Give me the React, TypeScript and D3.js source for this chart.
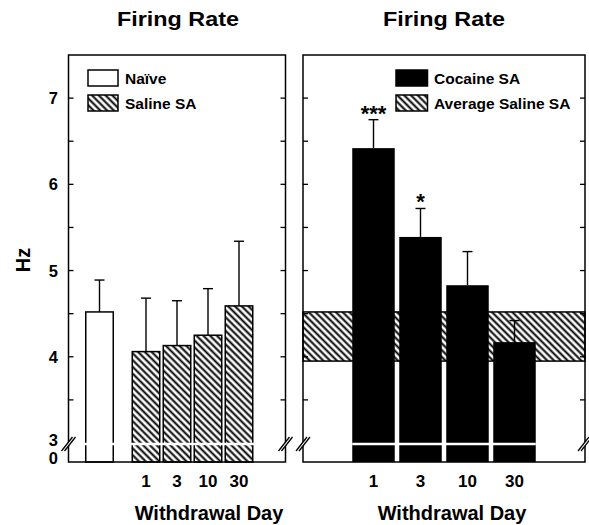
import React from 'react'
import * as d3 from 'd3'

const salineDays = ['1', '3', '10', '30']
const salineMean = [4.06, 4.13, 4.25, 4.59]
const salineErr = [0.62, 0.52, 0.54, 0.75]
const naiveMean = [4.52]
const naiveErr = [0.37]
const cocaineDays = ['1', '3', '10', '30']
const cocaineMean = [6.42, 5.39, 4.83, 4.17]
const cocaineErr = [0.33, 0.33, 0.39, 0.25]
const cocaineStars = ['***', '*', '', '']
const salineBand = [3.95, 4.52]
const yMajor = [4, 5, 6, 7]
const yMinor = [3.5, 4.5, 5.5, 6.5]

const FONT = '"Liberation Sans", Arial, Helvetica, sans-serif'
const top = 55
const bottom = 462
const breakY = 444

// y scale covers the visible 3..7.5 range, 0 sits below the axis break
const y = d3.scaleLinear().domain([3, 7.5]).range([443, top])

// slot positions (bar index) for each panel
const xL = d3.scaleLinear().domain([-2.5, 4.5]).range([68.5, 285.5])
const xR = d3.scaleLinear().domain([-1.5, 4.5]).range([303, 585])
const wL = 27.5
const wR = 42.5

const BreakMark = ({ x }: { x: number }) => (
  <g stroke="#000" strokeWidth={1.3}>
    <polygon points={`${x - 7},${breakY + 7} ${x + 4},${breakY - 7} ${x + 7},${breakY - 7} ${x - 4},${breakY + 7}`} fill="#fff" stroke="none" />
    <line x1={x - 7} y1={breakY + 7} x2={x + 4} y2={breakY - 7} />
    <line x1={x - 4} y1={breakY + 7} x2={x + 7} y2={breakY - 7} />
  </g>
)

const YTicks = ({ x0, x1 }: { x0: number; x1: number }) => (
  <g stroke="#000" strokeWidth={1.3}>
    {[...yMajor, ...yMinor].map((t) => (
      <g key={t}>
        <line x1={x0} x2={x0 + 5} y1={y(t)} y2={y(t)} />
        <line x1={x1} x2={x1 - 5} y1={y(t)} y2={y(t)} />
      </g>
    ))}
  </g>
)

const ErrBar = ({ cx, v, e }: { cx: number; v: number; e: number }) => (
  <g stroke="#000" strokeWidth={1.4}>
    <line x1={cx} x2={cx} y1={y(v)} y2={y(v + e)} />
    <line x1={cx - 5} x2={cx + 5} y1={y(v + e)} y2={y(v + e)} />
  </g>
)

export default function App() {
  const textBold = { fontFamily: FONT, fontWeight: 'bold' as const }
  return (
    <svg width={589} height={525} style={{ display: 'block', position: 'absolute', left: 0, top: 0, background: '#fff' }}>
      <defs>
        <pattern id="hatch" patternUnits="userSpaceOnUse" width={4.8} height={4.8} patternTransform="rotate(45)">
          <rect width={4.8} height={4.8} fill="#fff" />
          <line x1={0} x2={4.8} y1={2.4} y2={2.4} stroke="#000" strokeWidth={2} />
        </pattern>
      </defs>

      {/* titles */}
      <text x={178} y={26} textAnchor="middle" fontSize={19.5} textLength={122} lengthAdjust="spacingAndGlyphs" {...textBold}>Firing Rate</text>
      <text x={444} y={26} textAnchor="middle" fontSize={19.5} textLength={122} lengthAdjust="spacingAndGlyphs" {...textBold}>Firing Rate</text>

      <text transform="translate(30,260) rotate(-90)" textAnchor="middle" fontSize={20} {...textBold}>Hz</text>

      {/* y tick labels */}
      {yMajor.map((t) => (
        <text key={t} x={58} y={y(t) + 6} textAnchor="end" fontSize={16.5} {...textBold}>{t}</text>
      ))}
      <text x={58} y={446} textAnchor="end" fontSize={16.5} {...textBold}>3</text>
      <text x={58} y={464} textAnchor="end" fontSize={16.5} {...textBold}>0</text>

      {/* left panel */}
      <g>
        <rect x={xL(-1.5) - wL / 2} y={y(naiveMean[0])} width={wL} height={bottom - y(naiveMean[0])} fill="#fff" stroke="#000" strokeWidth={1.5} />
        <ErrBar cx={xL(-1.5)} v={naiveMean[0]} e={naiveErr[0]} />
        {salineDays.map((d, i) => (
          <g key={d}>
            <rect x={xL(i) - wL / 2} y={y(salineMean[i])} width={wL} height={bottom - y(salineMean[i])} fill="url(#hatch)" stroke="#000" strokeWidth={1.5} />
            <ErrBar cx={xL(i)} v={salineMean[i]} e={salineErr[i]} />
            <text x={xL(i)} y={487} textAnchor="middle" fontSize={17} {...textBold}>{d}</text>
          </g>
        ))}
        <line x1={xL(-1.5) - wL / 2 - 3} x2={xL(3) + wL / 2 + 2} y1={breakY} y2={breakY} stroke="#fff" strokeWidth={2.5} />
        <rect x={68.5} y={top} width={217} height={bottom - top} fill="none" stroke="#000" strokeWidth={1.5} />
        <YTicks x0={68.5} x1={285.5} />
        <BreakMark x={68.5} />
        <BreakMark x={285.5} />

        <rect x={88} y={70} width={30} height={16} fill="#fff" stroke="#000" strokeWidth={1.5} />
        <text x={125} y={83.5} fontSize={15.5} {...textBold}>Naïve</text>
        <rect x={88} y={95} width={30} height={16} fill="url(#hatch)" stroke="#000" strokeWidth={1.5} />
        <text x={125} y={108.5} fontSize={15.5} {...textBold}>Saline SA</text>

        <text x={209} y={520} textAnchor="middle" fontSize={20} {...textBold}>Withdrawal Day</text>
      </g>

      {/* right panel */}
      <g>
        <rect x={303} y={y(salineBand[1])} width={282} height={y(salineBand[0]) - y(salineBand[1])} fill="url(#hatch)" stroke="#000" strokeWidth={1.5} />
        {cocaineDays.map((d, i) => (
          <g key={d}>
            <rect x={xR(i) - wR / 2} y={y(cocaineMean[i])} width={wR} height={bottom - y(cocaineMean[i])} fill="#000" />
            <ErrBar cx={xR(i)} v={cocaineMean[i]} e={cocaineErr[i]} />
            {cocaineStars[i] && (
              <text x={xR(i)} y={y(cocaineMean[i] + cocaineErr[i]) + 1} textAnchor="middle" fontSize={22} {...textBold}>{cocaineStars[i]}</text>
            )}
            <text x={xR(i)} y={487} textAnchor="middle" fontSize={17} {...textBold}>{d}</text>
          </g>
        ))}
        <line x1={xR(0) - wR / 2} x2={xR(3) + wR / 2} y1={breakY} y2={breakY} stroke="#fff" strokeWidth={2.5} />
        <rect x={303} y={top} width={282} height={bottom - top} fill="none" stroke="#000" strokeWidth={1.5} />
        <YTicks x0={303} x1={585} />
        <BreakMark x={303} />
        <BreakMark x={585} />

        <rect x={396} y={70} width={31.5} height={16} fill="#000" stroke="#000" strokeWidth={1.5} />
        <text x={434} y={83.5} fontSize={15.5} {...textBold}>Cocaine SA</text>
        <rect x={396} y={95} width={31.5} height={16} fill="url(#hatch)" stroke="#000" strokeWidth={1.5} />
        <text x={434} y={108.5} fontSize={15.5} {...textBold}>Average Saline SA</text>

        <text x={452} y={520} textAnchor="middle" fontSize={20} {...textBold}>Withdrawal Day</text>
      </g>
    </svg>
  )
}
